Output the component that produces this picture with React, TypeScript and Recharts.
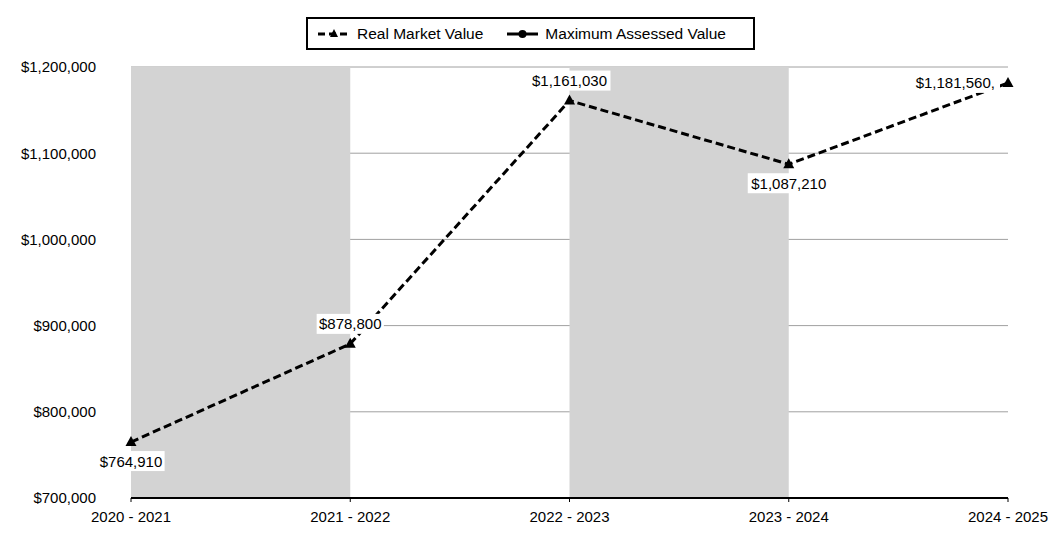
import React from "react";
import {
  LineChart,
  Line,
  XAxis,
  YAxis,
  CartesianGrid,
  ReferenceArea,
  LabelList,
} from "recharts";

const years = ["2020 - 2021", "2021 - 2022", "2022 - 2023", "2023 - 2024", "2024 - 2025"];
const realMarket = [764910, 878800, 1161030, 1087210, 1181560];
const maxAssessed: (number | null)[] = [null, null, null, null, null];
const yTicks = [700000, 800000, 900000, 1000000, 1100000, 1200000];

// where each value label sits relative to its point
const labelSide = ["below", "above", "above", "below", "left"];

const data = years.map((y, i) => ({
  year: y,
  real: realMarket[i],
  assessed: maxAssessed[i],
}));

const FONT = "'Liberation Sans', Arial, sans-serif";
const money = (v: number) => "$" + v.toLocaleString("en-US");

const Triangle = (props: any) => {
  const { cx, cy } = props;
  if (cx == null || cy == null) return null;
  return (
    <path
      d={`M${cx},${cy - 6} L${cx + 5.5},${cy + 4} L${cx - 5.5},${cy + 4} Z`}
      fill="#000"
    />
  );
};

const ValueLabel = (props: any) => {
  const { x, y, value, index } = props;
  if (value == null) return null;
  const side = labelSide[index];
  let text = money(value);
  if (side === "left") text += ",";
  const w = text.length * 7.4 + 8;
  const h = 20;
  let cx = x;
  let cy = y;
  if (side === "below") cy = y + 19;
  if (side === "above") cy = y - 20;
  if (side === "left") cx = x - 8 - w / 2;
  return (
    <g>
      <rect x={cx - w / 2} y={cy - h / 2} width={w} height={h} fill="#fff" />
      <text
        x={cx}
        y={cy}
        textAnchor="middle"
        dominantBaseline="central"
        fontSize={15}
        fontFamily={FONT}
        fill="#000"
      >
        {text}
      </text>
    </g>
  );
};

const LegendBox = () => (
  <div
    style={{
      position: "absolute",
      left: 306,
      top: 17,
      width: 449,
      height: 33,
      border: "2px solid #000",
      background: "#fff",
      display: "flex",
      alignItems: "center",
      fontFamily: FONT,
      fontSize: 15.5,
      color: "#000",
      boxSizing: "border-box",
    }}
  >
    <svg width="32" height="10" style={{ marginLeft: 10 }}>
      <line x1="0" y1="5" x2="32" y2="5" stroke="#000" strokeWidth="3" strokeDasharray="7 4" />
      <path d="M16,0 L20,8 L12,8 Z" fill="#000" />
    </svg>
    <span style={{ marginLeft: 7 }}>Real Market Value</span>
    <svg width="31" height="10" style={{ marginLeft: 24 }}>
      <line x1="0" y1="5" x2="31" y2="5" stroke="#000" strokeWidth="3" />
      <circle cx="15.5" cy="5" r="4" fill="#000" />
    </svg>
    <span style={{ marginLeft: 7 }}>Maximum Assessed Value</span>
  </div>
);

export default function App() {
  return (
    <div style={{ position: "absolute", left: 0, top: 0, width: 1061, height: 538, background: "#fff" }}>
      <LineChart
        width={1061}
        height={538}
        data={data}
        margin={{ top: 67, right: 53, bottom: 10, left: 0 }}
      >
        <ReferenceArea x1={years[0]} x2={years[1]} fill="#d3d3d3" fillOpacity={1} stroke="none" />
        <ReferenceArea x1={years[2]} x2={years[3]} fill="#d3d3d3" fillOpacity={1} stroke="none" />
        <CartesianGrid vertical={false} stroke="#a0a0a0" strokeWidth={1} />
        <XAxis
          dataKey="year"
          height={30}
          padding={{ left: 0, right: 0 }}
          axisLine={{ stroke: "#000", strokeWidth: 2 }}
          tickLine={{ stroke: "#000" }}
          tickSize={4}
          tickMargin={9}
          interval={0}
          tick={{ fill: "#000", fontSize: 15, fontFamily: FONT }}
        />
        <YAxis
          width={131}
          domain={[700000, 1200000]}
          ticks={yTicks}
          axisLine={false}
          tickLine={false}
          tickMargin={29}
          tickFormatter={money}
          tick={{ fill: "#000", fontSize: 15, fontFamily: FONT }}
        />
        <Line
          dataKey="assessed"
          stroke="#000"
          strokeWidth={3}
          dot={false}
          isAnimationActive={false}
        />
        <Line
          dataKey="real"
          type="linear"
          stroke="#000"
          strokeWidth={3}
          strokeDasharray="8 4"
          dot={<Triangle />}
          activeDot={false}
          isAnimationActive={false}
        >
          <LabelList dataKey="real" content={<ValueLabel />} />
        </Line>
      </LineChart>
      <LegendBox />
    </div>
  );
}
